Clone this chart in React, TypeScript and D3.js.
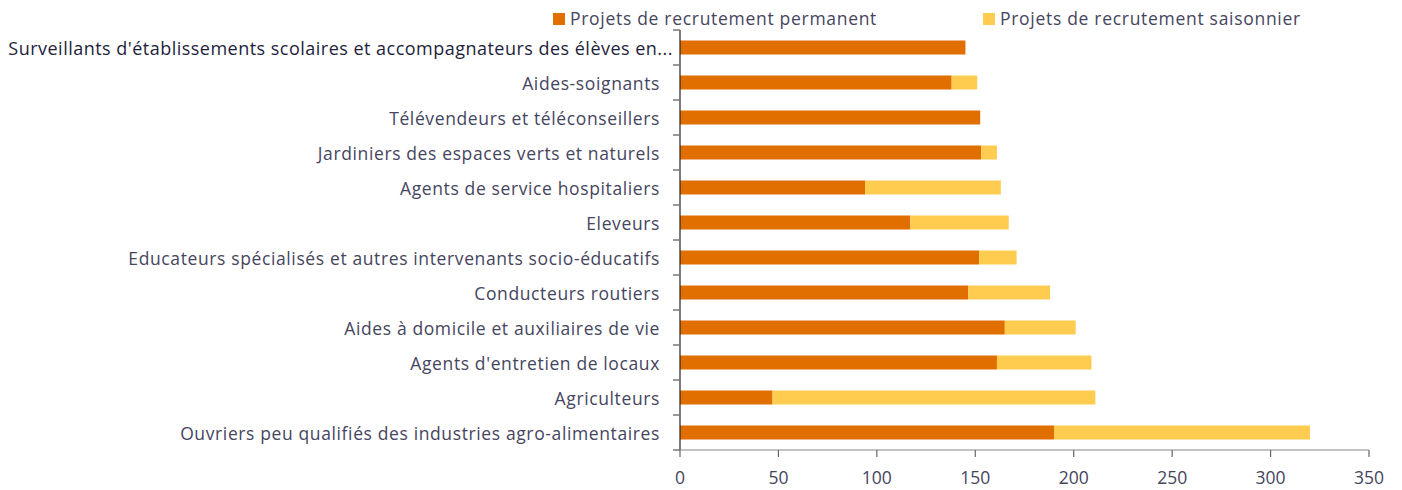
import React from 'react';
import * as d3 from 'd3';

// Données (projets de recrutement, en milliers)
const categories = [
  "Surveillants d'établissements scolaires et accompagnateurs des élèves en...",
  'Aides-soignants',
  'Télévendeurs et téléconseillers',
  'Jardiniers des espaces verts et naturels',
  'Agents de service hospitaliers',
  'Eleveurs',
  'Educateurs spécialisés et autres intervenants socio-éducatifs',
  'Conducteurs routiers',
  'Aides à domicile et auxiliaires de vie',
  "Agents d'entretien de locaux",
  'Agriculteurs',
  'Ouvriers peu qualifiés des industries agro-alimentaires',
];
const permanent = [145, 138, 152.5, 153, 94, 117, 152, 146.5, 165, 161, 47, 190];
const saisonnier = [0, 13, 0, 8, 69, 50, 19, 41.5, 36, 48, 164, 130];
const seriesNames = ['Projets de recrutement permanent', 'Projets de recrutement saisonnier'];
const xTicks = [0, 50, 100, 150, 200, 250, 300, 350];

const COLORS = ['#e06f00', '#ffcc50'];
const TEXT = '#45455e';
const FONT = '"Open Sans", "Noto Sans", sans-serif';

export default function App() {
  const width = 1402;
  const height = 490;
  const margin = { top: 30, right: 33, bottom: 40, left: 680 };

  const x = d3.scaleLinear().domain([0, 350]).range([margin.left, width - margin.right]);
  const y = d3
    .scaleBand<string>()
    .domain(categories)
    .range([margin.top, height - margin.bottom])
    .paddingInner(0.6)
    .paddingOuter(0.3);

  const step = y.step();
  const bottom = height - margin.bottom;
  const boundaries = d3.range(categories.length + 1).map(i => margin.top + i * step);

  const stacked = categories.map((c, i) => ({
    cat: c,
    parts: [
      { x0: 0, x1: permanent[i] },
      { x0: permanent[i], x1: permanent[i] + saisonnier[i] },
    ],
  }));

  return (
    <svg width={width} height={height} style={{ position: 'absolute', left: 0, top: 0 }}>
      <rect width={width} height={height} fill="#fff" />

      {/* Légende */}
      {seriesNames.map((name, i) => {
        const lx = i === 0 ? 553 : 983;
        return (
          <g key={name} transform={`translate(${lx}, 13)`}>
            <rect width={12} height={12} fill={COLORS[i]} />
            <text x={17} y={12} fontFamily={FONT} fontSize={17.5} letterSpacing={0.7} fill={TEXT}>
              {name}
            </text>
          </g>
        );
      })}

      {/* Barres */}
      {stacked.map(row =>
        row.parts.map((p, j) =>
          p.x1 > p.x0 ? (
            <rect
              key={row.cat + j}
              x={x(p.x0)}
              y={y(row.cat)}
              width={x(p.x1) - x(p.x0)}
              height={y.bandwidth()}
              fill={COLORS[j]}
            />
          ) : null
        )
      )}

      {/* Axe vertical */}
      <line x1={x(0)} x2={x(0)} y1={margin.top} y2={bottom} stroke="#222" strokeWidth={1.2} />
      {boundaries.map((b, i) => (
        <line key={i} x1={x(0) - 7} x2={x(0)} y1={b} y2={b} stroke="#777" strokeWidth={1.5} />
      ))}
      {categories.map((c, i) => (
        <text
          key={c}
          x={i === 0 ? 673 : 660}
          y={(y(c) as number) + y.bandwidth() / 2 + 1}
          dy="0.35em"
          textAnchor="end"
          fontFamily={FONT}
          fontSize={i === 0 ? 18 : 17.5}
          letterSpacing={i === 0 ? 0.48 : 0.62}
          fill={i === 0 ? '#1e1e3c' : TEXT}
        >
          {c}
        </text>
      ))}

      {/* Axe horizontal */}
      <line x1={x(0)} x2={x(350)} y1={bottom} y2={bottom} stroke="#888" strokeWidth={1.2} />
      {xTicks.map(t => (
        <g key={t} transform={`translate(${x(t)}, ${bottom})`}>
          <line y2={7} stroke="#666" strokeWidth={1.2} />
          <text y={34} textAnchor="middle" fontFamily={FONT} fontSize={17.5} fill={TEXT}>
            {t}
          </text>
        </g>
      ))}
    </svg>
  );
}
